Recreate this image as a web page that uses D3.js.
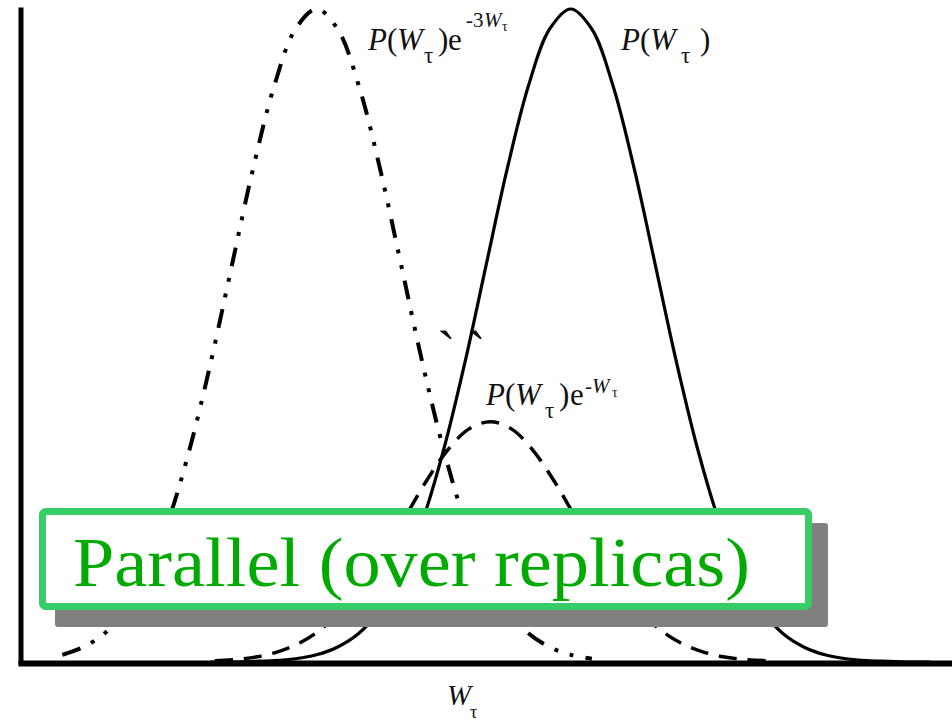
<!DOCTYPE html>
<html>
<head>
<meta charset="utf-8">
<script src="https://cdn.jsdelivr.net/npm/d3@7"></script>
<style>
  html, body { margin: 0; padding: 0; background: #ffffff; }
  svg { display: block; }
</style>
</head>
<body>
<svg id="chart" width="952" height="723"></svg>
<script>
// Work distribution P(W_tau) and its reweighted versions (arbitrary units)
const wDomain = [0, 11];
const pDomain = [0, 1];

// P(W_tau) e^{-3 W_tau}  (dash-dot-dot)
const dashDotW = [0.5, 0.75, 1, 1.25, 1.5, 1.75, 2, 2.25, 2.5, 2.75, 3, 3.25, 3.5,
                  3.75, 4, 4.25, 4.5, 4.75, 5, 5.25, 5.5, 5.75, 6, 6.25, 6.5, 6.75];
const dashDotP = [0.011, 0.023, 0.044, 0.080, 0.135, 0.216, 0.325, 0.458, 0.607, 0.755, 0.882, 0.969, 1.000,
                  0.969, 0.882, 0.755, 0.607, 0.458, 0.325, 0.216, 0.135, 0.080, 0.044, 0.023, 0.011, 0.005];

// P(W_tau) e^{-W_tau}  (dashed)
const dashedW = [2.3, 2.55, 2.8, 3.05, 3.3, 3.55, 3.8, 4.05, 4.3, 4.55, 4.8, 5.05, 5.3, 5.55,
                 5.8, 6.05, 6.3, 6.55, 6.8, 7.05, 7.3, 7.55, 7.8, 8.05, 8.3, 8.55, 8.8];
const dashedP = [0.002, 0.004, 0.008, 0.016, 0.029, 0.050, 0.080, 0.120, 0.169, 0.223, 0.278, 0.325, 0.357, 0.368,
                 0.357, 0.325, 0.278, 0.223, 0.169, 0.120, 0.080, 0.050, 0.029, 0.016, 0.008, 0.004, 0.002];

// P(W_tau)  (solid)
const solidW = [2.25, 2.5, 2.75, 3, 3.25, 3.5, 3.75, 4, 4.25, 4.5, 4.75, 5, 5.25, 5.5, 5.75, 6, 6.25, 6.5,
                6.75, 7, 7.25, 7.5, 7.75, 8, 8.25, 8.5, 8.75, 9, 9.25, 9.5, 9.75, 10, 10.25, 10.5, 10.75];
const solidP = [0.000, 0.000, 0.001, 0.002, 0.005, 0.011, 0.023, 0.044, 0.080, 0.135, 0.216, 0.325, 0.458, 0.607,
                0.755, 0.882, 0.969, 1.000, 0.969, 0.882, 0.755, 0.607, 0.458, 0.325, 0.216, 0.135, 0.080, 0.044,
                0.023, 0.011, 0.005, 0.002, 0.001, 0.000, 0.000];

const boxTitle = "Parallel (over replicas)";

const svg = d3.select("#chart");
const x = d3.scaleLinear().domain(wDomain).range([20, 952]);
const y = d3.scaleLinear().domain(pDomain).range([662, 9]);

const line = d3.line()
  .x(d => x(d[0]))
  .y(d => y(d[1]))
  .curve(d3.curveCatmullRom.alpha(0.5));

const zip = (a, b) => a.map((v, i) => [v, b[i]]);

const curves = [
  { w: dashDotW, p: dashDotP, width: 4,   dash: "19,12,4,12,4,12" },
  { w: dashedW,  p: dashedP,  width: 3.5, dash: "18,11" },
  { w: solidW,   p: solidP,   width: 3.2, dash: null }
];

svg.append("g").selectAll("path")
  .data(curves)
  .join("path")
  .attr("d", d => line(zip(d.w, d.p)))
  .attr("fill", "none")
  .attr("stroke", "#000")
  .attr("stroke-width", d => d.width)
  .attr("stroke-dasharray", d => d.dash);

// Axes: plain lines, no ticks
const yAxisScale = y.copy().range([664, 7]);
const gy = svg.append("g").attr("transform", "translate(20.5,0)")
  .call(d3.axisLeft(yAxisScale).tickValues([]).tickSizeOuter(0));
const gx = svg.append("g").attr("transform", "translate(0,663)")
  .call(d3.axisBottom(x.copy().range([18, 952])).tickValues([]).tickSizeOuter(0));
[gy, gx].forEach(g => g.select(".domain").attr("stroke", "#000"));
gy.select(".domain").attr("stroke-width", 5);
gx.select(".domain").attr("stroke-width", 6);

// Curve labels built from pieces: [text, x, y, size, italic]
const serif = "'Liberation Serif', 'Times New Roman', serif";
function mathLabel(pieces) {
  const t = svg.append("text").attr("font-family", serif).attr("fill", "#111");
  pieces.forEach(([s, px, py, size, it]) => {
    t.append("tspan")
      .attr("x", px).attr("y", py)
      .attr("font-size", size)
      .attr("font-style", it ? "italic" : "normal")
      .text(s);
  });
}

mathLabel([
  ["P", 368, 50, 31, true], ["(", 387, 50, 31, false], ["W", 397, 50, 31, true],
  ["\u03C4", 424, 63, 23, false], [")", 438, 50, 31, false], ["e", 448, 50, 31, false],
  ["-3", 466, 27, 21, false], ["W", 484, 27, 21, true], ["\u03C4", 502, 31, 14, false]
]);
mathLabel([
  ["P", 621, 50, 31, true], ["(", 640, 50, 31, false], ["W", 650, 50, 31, true],
  ["\u03C4", 681, 63, 23, false], [")", 700, 50, 31, false]
]);
mathLabel([
  ["P", 486, 405, 31, true], ["(", 505, 405, 31, false], ["W", 515, 405, 31, true],
  ["\u03C4", 545, 418, 23, false], [")", 559, 405, 31, false], ["e", 570, 405, 31, false],
  ["-", 585, 393, 21, false], ["W", 592, 393, 21, true], ["\u03C4", 612, 397, 14, false]
]);
svg.append("text").attr("font-family", serif).attr("font-size", 56).attr("fill", "#111")
  .attr("x", 437).attr("y", 370).text("`");
svg.append("text").attr("font-family", serif).attr("font-size", 56).attr("fill", "#111")
  .attr("x", 467).attr("y", 370).text("`");

// Axis title
mathLabel([
  ["W", 447, 705, 29, true], ["\u03C4", 470, 718, 18, false]
]);

// Boxed caption with drop shadow
const box = { x: 39, y: 508, w: 773, h: 102, sw: 7, off: 16 };
svg.append("rect")
  .attr("x", box.x + box.off).attr("y", box.y + box.off - 1)
  .attr("width", box.w).attr("height", box.h + 2)
  .attr("rx", 3).attr("fill", "#808080");
svg.append("rect")
  .attr("x", box.x + box.sw / 2).attr("y", box.y + box.sw / 2)
  .attr("width", box.w - box.sw).attr("height", box.h - box.sw)
  .attr("rx", 3)
  .attr("fill", "#fff").attr("stroke", "#36cc66").attr("stroke-width", box.sw);
svg.append("text")
  .attr("x", 73).attr("y", 586)
  .attr("font-family", serif).attr("font-size", 69)
  .attr("fill", "#00aa00")
  .attr("textLength", 677).attr("lengthAdjust", "spacingAndGlyphs")
  .text(boxTitle);
</script>
</body>
</html>
